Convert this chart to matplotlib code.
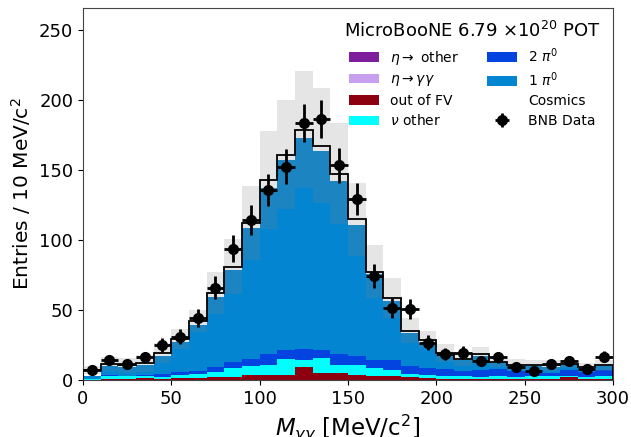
import numpy as np
import matplotlib
matplotlib.use("Agg")
import matplotlib.pyplot as plt

# Binning: 10 MeV/c^2 bins from 0 to 300
bin_edges = np.arange(0, 301, 10)

# Stacked MC predictions per bin (events / 10 MeV/c^2)
eta_other = np.zeros(30)
eta_gg = np.zeros(30)
out_fv = [0.1, 0.7, 0.7, 1.2, 0.7, 1.2, 1.2, 2.4, 2.4, 3.8,
          3.8, 3.8, 9.1, 5.3, 5.3, 3.8, 2.6, 2.6, 1.9, 1.4,
          0.7, 0.7, 0.7, 0.7, 0.7, 0.5, 0.5, 1.9, 0.5, 0.5]
nu_other = [0.3, 2.4, 1.9, 1.4, 1.7, 2.4, 2.8, 3.1, 6.0, 6.5,
            7.0, 11.2, 5.0, 10.2, 5.5, 7.0, 5.8, 4.6, 2.4, 2.2,
            1.9, 1.9, 1.2, 2.4, 1.2, 2.1, 2.1, 1.2, 1.4, 2.6]
two_pi0 = [0.2, 0.2, 0.5, 1.0, 2.1, 2.4, 2.5, 3.8, 4.6, 4.7,
           7.9, 6.8, 8.1, 6.3, 8.1, 6.2, 5.7, 6.8, 6.0, 4.8,
           5.3, 4.1, 5.5, 4.8, 4.8, 2.9, 2.4, 4.1, 3.6, 4.1]
one_pi0 = [2.6, 6.5, 6.2, 7.2, 13.0, 21.5, 32.5, 49.7, 66.0, 94.0,
           118.3, 135.2, 150.8, 142.2, 123.1, 94.0, 61.4, 42.5, 23.2, 17.9,
           10.1, 7.3, 9.6, 4.4, 3.6, 4.3, 4.3, 3.3, 2.9, 2.6]
cosmics = [3.8, 1.5, 1.3, 1.2, 2.0, 2.0, 3.0, 3.0, 2.0, 3.5,
           6.0, 4.0, 6.0, 3.5, 5.5, 4.0, 1.8, 2.1, 1.9, 2.4,
           1.5, 1.0, 1.3, 0.9, 0.7, 0.8, 1.2, 0.9, 1.0, 0.8]

# Systematic uncertainty on the total prediction (half-width of the band)
sys_err = [3.0, 5.0, 5.3, 6.0, 7.0, 7.0, 8.0, 15.0, 19.5, 26.4,
           35.0, 39.0, 42.0, 41.0, 36.0, 26.0, 19.0, 14.0, 9.0, 6.0,
           6.4, 5.0, 5.0, 4.0, 4.0, 3.5, 4.0, 3.0, 3.0, 4.0]

# BNB data counts
data = [7.2, 14.4, 11.3, 16.3, 25.1, 31.1, 44.3, 65.9, 93.9, 114.4,
        135.8, 152.5, 183.7, 186.8, 153.4, 129.5, 74.2, 51.5, 50.5, 26.8,
        18.4, 19.6, 13.6, 16.3, 9.3, 6.5, 11.5, 13.4, 8.1, 16.7]

components = [
    (eta_other, r"$\eta\rightarrow$ other", "xkcd:purple"),
    (eta_gg, r"$\eta\rightarrow\gamma\gamma$", "xkcd:lavender"),
    (out_fv, "out of FV", "xkcd:crimson"),
    (nu_other, r"$\nu$ other", "xkcd:cyan"),
    (two_pi0, r"2 $\pi^0$", "xkcd:blue"),
    (one_pi0, r"1 $\pi^0$", "xkcd:cerulean"),
    (cosmics, "Cosmics", "white"),
]

fig = plt.figure(figsize=(6.31, 4.37), dpi=100)
ax = fig.add_axes([0.1315, 0.1304, 0.84, 0.8513])

left = bin_edges[:-1]
width = np.diff(bin_edges)
bottom = np.zeros(len(left))
for vals, lab, col in components:
    vals = np.asarray(vals, dtype=float)
    ax.bar(left, vals, width=width, bottom=bottom, align="edge",
           color=col, label=lab, linewidth=0)
    bottom = bottom + vals
total = bottom

# Uncertainty band on the prediction
err = np.asarray(sys_err)
ax.bar(left, 2 * err, width=width, bottom=total - err, align="edge",
       color="gray", alpha=0.2, linewidth=0, zorder=3)

# Outline of the total prediction
ax.stairs(total, bin_edges, color="black", linewidth=1.3, zorder=4)

# Data with Poisson errors
centers = 0.5 * (bin_edges[:-1] + bin_edges[1:])
data = np.asarray(data)
ax.errorbar(centers, data, yerr=np.sqrt(data), xerr=width / 2, fmt="o",
            color="black", markersize=7, elinewidth=2, capsize=0,
            label="BNB Data", zorder=5)

ax.set_xlim(0, 300)
ax.set_ylim(0, 266)
ax.set_xticks(np.arange(0, 301, 50))
ax.set_yticks(np.arange(0, 251, 50))
ax.tick_params(labelsize=13)
ax.set_xlabel(r"$M_{\gamma\gamma}$ [MeV/c$^2$]", fontsize=16.5, labelpad=3)
ax.set_ylabel(r"Entries / 10 MeV/c$^2$", fontsize=14.5)
for sp in ax.spines.values():
    sp.set_color("#444444")

leg = ax.legend(loc="upper right", ncol=2, frameon=False, fontsize=10,
                title=r"MicroBooNE 6.79 $\times 10^{20}$ POT",
                title_fontsize=13, handlelength=2.2, columnspacing=1.95,
                labelspacing=0.4, borderaxespad=0.5)

fig.savefig("out.png", dpi=100)
